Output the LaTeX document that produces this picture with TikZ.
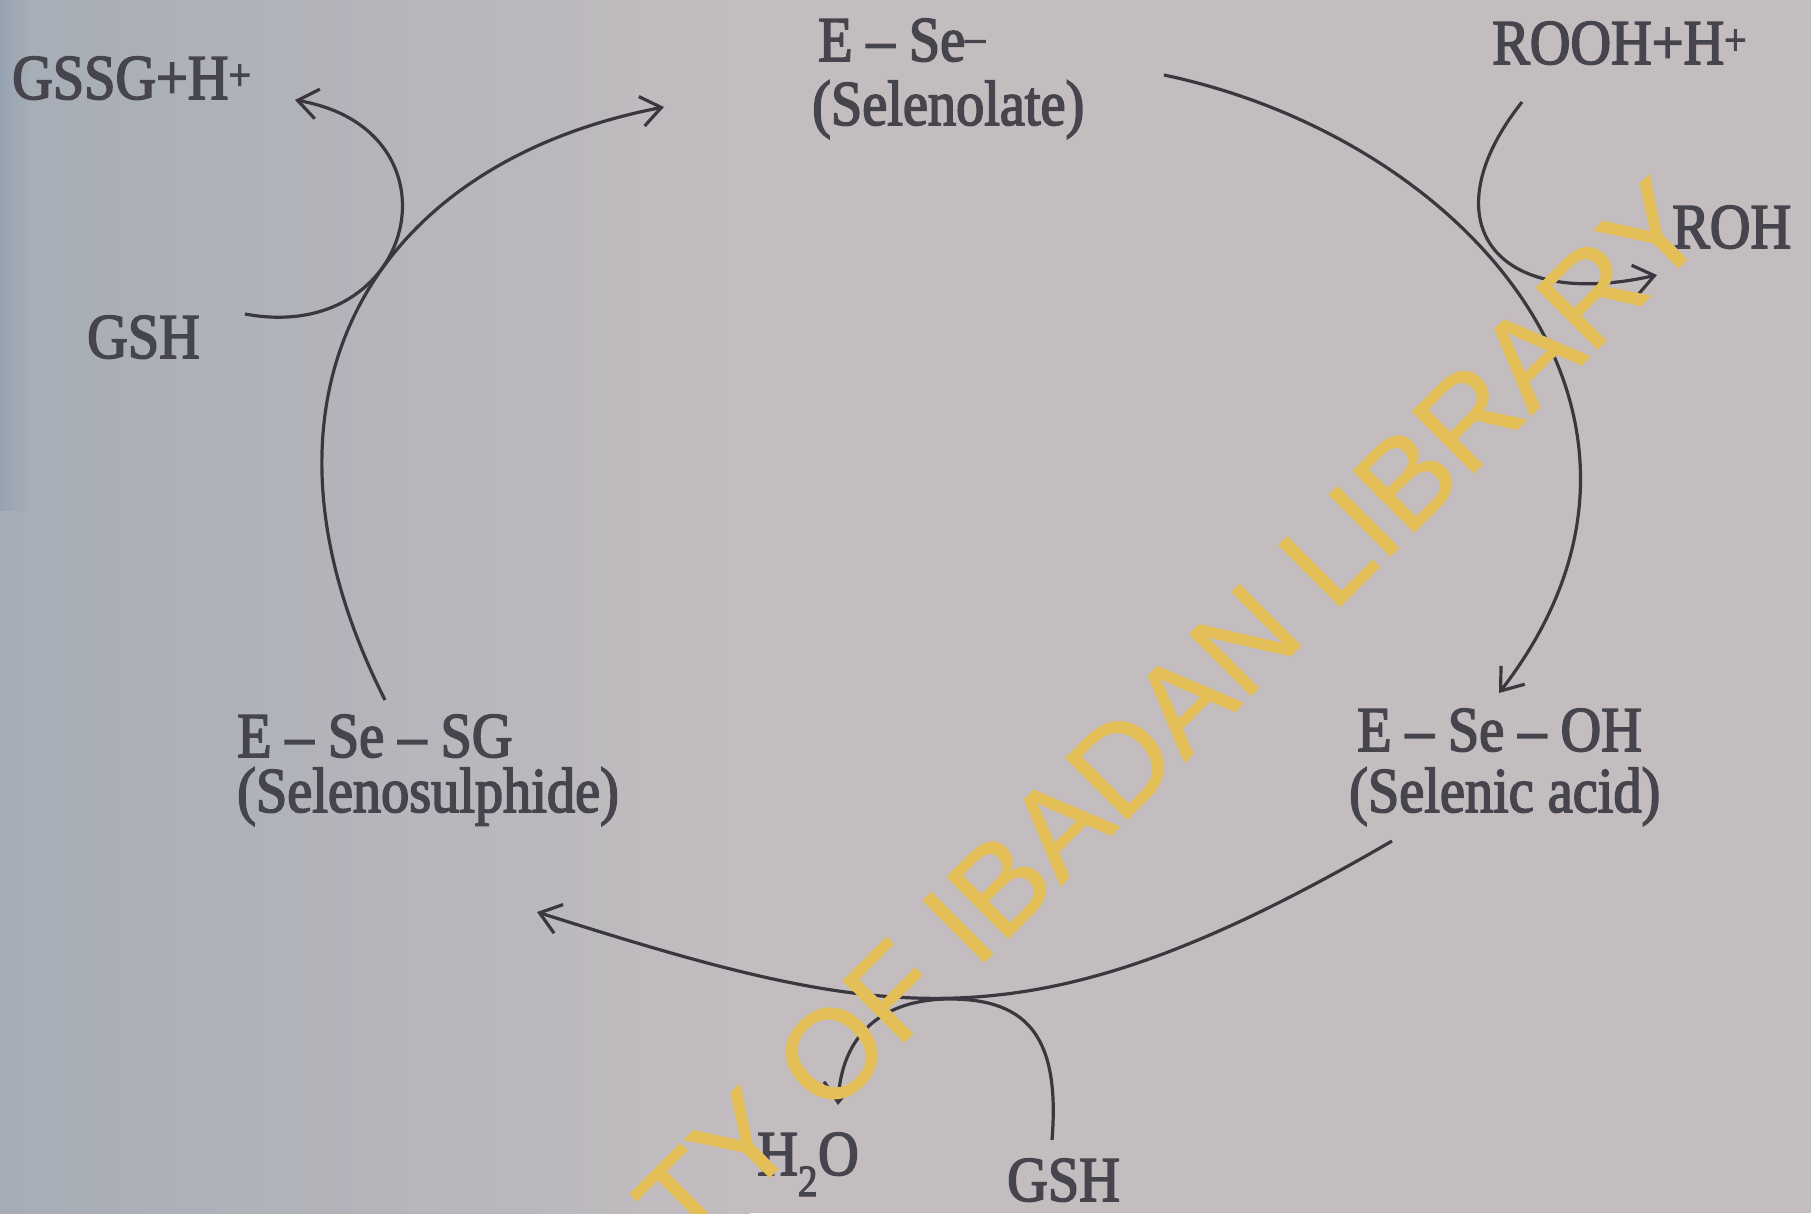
\documentclass[tikz,border=0pt]{standalone}
\usepackage{fontspec}
\setmainfont{Liberation Serif}[FakeStretch=0.88,FakeBold=2.5]
\newfontfamily\wmfont{Liberation Sans}[FakeBold=0.8]
\usetikzlibrary{arrows.meta}
\definecolor{bgL}{RGB}{166,173,182}
\definecolor{bgR}{RGB}{195,189,192}
\definecolor{strip}{RGB}{150,164,177}
\definecolor{ink}{RGB}{58,56,62}
\definecolor{txt}{RGB}{70,68,76}
\definecolor{wm}{RGB}{228,190,86}
\tikzset{
  lbl/.style={inner sep=0pt, anchor=base west, text=txt, font=\fontsize{64}{70}\selectfont},
  cyc/.style={draw=ink, line width=3.2pt},
  arr/.style={cyc, -{Straight Barb[length=20pt,width=30pt,line width=3.2pt]}},
  wmark/.style={text=wm, inner sep=0pt, font=\wmfont\fontsize{126}{130}\selectfont}
}
\begin{document}
\begin{tikzpicture}[x=1pt,y=-1pt]
\useasboundingbox (0,0) rectangle (1811,1213);
\begin{scope}
\clip (0,0) rectangle (1811,1213);
\fill[bgR] (0,0) rectangle (1811,1213);
\shade[left color=bgL, right color=bgR] (0,0) rectangle (750,1213);
\shade[left color=strip, right color=bgL] (0,0) rectangle (30,510);

% labels
\node[lbl] (gssg) at (12,99) {GSSG+H\textsuperscript{+}};
\node[lbl] (gshL) at (87,358) {GSH};
\node[lbl] (ese) at (818,61) {E – Se\textsuperscript{–}};
\node[lbl] (selenolate) at (812,125) {(Selenolate)};
\node[lbl] (rooh) at (1492,64) {ROOH+H\textsuperscript{+}};
\node[lbl] (roh) at (1672,248) {ROH};
\node[lbl] (esesg) at (237,757) {E – Se – SG};
\node[lbl] (selenosulphide) at (237,812) {(Selenosulphide)};
\node[lbl] (eseoh) at (1357,751) {E – Se – OH};
\node[lbl] (selenic) at (1349,812) {(Selenic acid)};
\node[lbl] (h2o) at (757,1175) {H\textsubscript{2}O};
\node[lbl] (gshB) at (1007,1201) {GSH};

% arc end points
\coordinate (c1s) at (385,700);
\coordinate (c1e) at (664,107);
\coordinate (c2s) at (1164,75);
\coordinate (c2e) at (1499,693);
\coordinate (c3s) at (1392,841);
\coordinate (c3e) at (537,912);
\coordinate (sLs) at (245,314);
\coordinate (sLe) at (295,100);
\coordinate (sRs) at (1522,102);
\coordinate (sRe) at (1657,275);
\coordinate (sBs) at (1052,1140);
\coordinate (sBm) at (950,999);
\coordinate (sBe) at (838,1105);

% main cycle
\draw[arr] (c1s) .. controls (232,397) and (370,164) .. (c1e);
\draw[arr] (c2s) .. controls (1468,139) and (1712,417) .. (c2e);
\draw[arr] (c3s) .. controls (1029,1052) and (890,1024) .. (c3e);

% side reactions
\draw[arr] (sLs) .. controls (417,346) and (467,130) .. (sLe);
\draw[arr] (sRs) .. controls (1429,219) and (1491,312) .. (sRe);
\draw[arr] (sBs) .. controls (1060,1040) and (1030,999) .. (sBm)
               .. controls (882,999) and (841,1035) .. (sBe);

% watermark
\node[wmark, rotate=45, anchor=base east] (wmk) at (1713,234) {TY OF IBADAN LIBRARY};
\end{scope}
\end{tikzpicture}
\end{document}
